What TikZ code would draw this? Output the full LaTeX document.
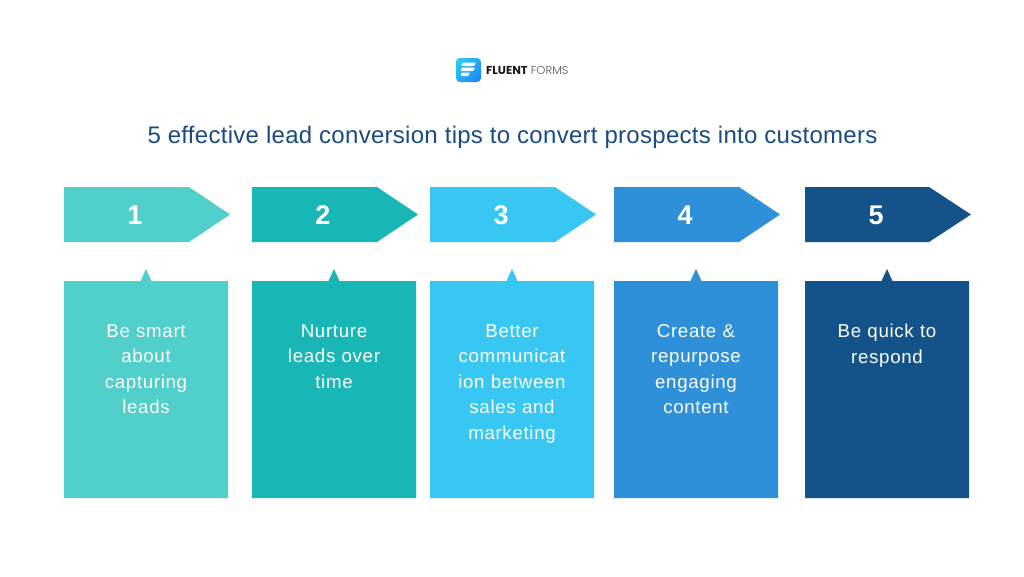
\documentclass[tikz,border=0pt]{standalone}
\usepackage{fontspec}
\setmainfont{Liberation Sans}
\newfontfamily\bodyfont{Liberation Sans}[LetterSpace=3.6]
\newfontfamily\titlefont{Liberation Sans}[LetterSpace=1.2]
\newfontfamily\logofont{Poppins}
\definecolor{cA}{HTML}{50CFCB}
\definecolor{cB}{HTML}{18B7B5}
\definecolor{cC}{HTML}{38C7F3}
\definecolor{cD}{HTML}{2E90D8}
\definecolor{cE}{HTML}{14538A}
\definecolor{titlec}{HTML}{1B4B80}
\definecolor{logoA}{HTML}{1E8CF8}
\definecolor{logoB}{HTML}{2CC4FB}
\tikzset{
  numtext/.style={text=white,font=\fontsize{27}{27}\selectfont\bfseries,inner sep=0pt,anchor=center},
  tiptext/.style={text=white,font=\bodyfont\fontsize{18.7}{25.5}\selectfont,align=center,text width=150pt,inner sep=0pt,anchor=north},
}
\newcommand{\tipcolumn}[5]{% left, tip-start, tip, box right, colour
  \pgfmathsetmacro{\boxmid}{(#1+#4)/2}
  \fill[#5] (#1,187) -- (#2,187) -- (#3,214.5) -- (#2,242) -- (#1,242) -- cycle;
  \fill[#5] (#1,281) -- (\boxmid-5.5,281) -- (\boxmid,269) -- (\boxmid+5.5,281) -- (#4,281) -- (#4,498) -- (#1,498) -- cycle;
}
\begin{document}
\begin{tikzpicture}[x=1pt,y=-1pt]
\useasboundingbox (0,0) rectangle (1024,576);
\fill[white] (0,0) rectangle (1024,576);
% logo
\shade[left color=logoB,right color=logoA,shading angle=45,rounded corners=4pt] (456,58) rectangle (481,82);
\fill[white,rounded corners=1pt] (462.5,62.5) -- (476,62.5) -- (474.5,66) -- (461,66) -- cycle;
\fill[white,rounded corners=1pt] (462,67.5) -- (475,67.5) -- (473.5,71) -- (460.5,71) -- cycle;
\fill[white,rounded corners=1pt] (461.5,72.5) -- (470,72.5) -- (468.5,76) -- (460.5,76) -- cycle;
\node[anchor=west,inner sep=0pt,text=black!90] (logotext) at (486,70) {\logofont\fontsize{11.5}{12}\selectfont\textbf{FLUENT} {\color{black!65}\fontspec{Poppins Light}FORMS}};
% title
\node[text=titlec,inner sep=0pt,font=\titlefont\fontsize{24}{26}\selectfont] (title) at (512.5,137) {5 effective lead conversion tips to convert prospects into customers};
% columns
\tipcolumn{64}{189}{230}{228}{cA}
\tipcolumn{252}{377}{418}{416}{cB}
\tipcolumn{430}{555}{596}{594}{cC}
\tipcolumn{614}{739}{780}{778}{cD}
\tipcolumn{805}{929}{971}{969}{cE}
\node[numtext] (n1) at (135,215) {1};
\node[numtext] (n2) at (323,215) {2};
\node[numtext] (n3) at (501,215) {3};
\node[numtext] (n4) at (685,215) {4};
\node[numtext] (n5) at (876,215) {5};
\node[tiptext] (t1) at (146,324) {Be smart\\about\\capturing\\leads};
\node[tiptext] (t2) at (334,324) {Nurture\\leads over\\time};
\node[tiptext] (t3) at (512,324) {Better\\communicat\\ion between\\sales and\\marketing};
\node[tiptext] (t4) at (696,324) {Create \&\\repurpose\\engaging\\content};
\node[tiptext] (t5) at (887,324) {Be quick to\\respond};
\end{tikzpicture}
\end{document}
